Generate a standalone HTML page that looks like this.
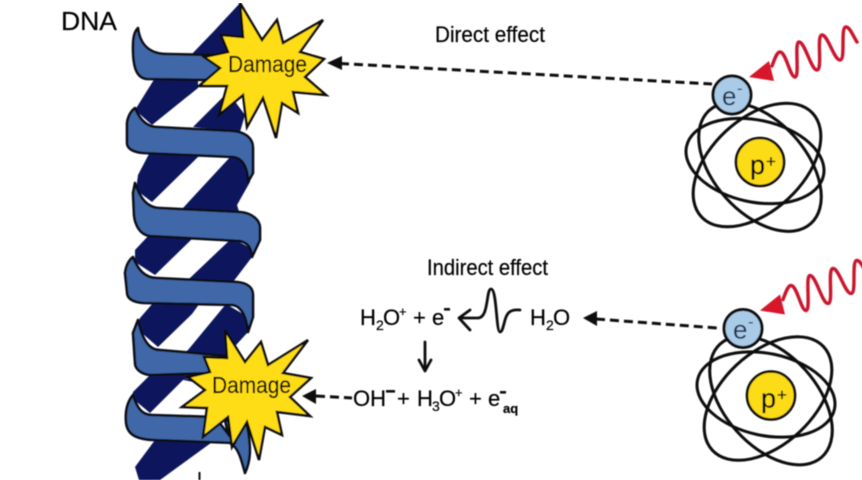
<!DOCTYPE html>
<html><head><meta charset="utf-8"><style>
html,body{margin:0;padding:0;background:#fff;width:862px;height:480px;overflow:hidden}
svg{display:block}
text{font-family:"Liberation Sans",sans-serif;fill:#000;stroke:#000;stroke-width:.2}
.r{fill:#3f68a8;stroke:#0b0b12;stroke-width:2.6;stroke-linejoin:round}
.s{fill:#ffdd14;stroke:#0b0b0b;stroke-width:2.5;stroke-linejoin:miter}
.o{fill:none;stroke:#0a0a0a;stroke-width:3}
.d{fill:none;stroke:#111;stroke-width:3;stroke-dasharray:9 5}
.w{fill:none;stroke:#c9142d;stroke-width:3.4;stroke-linejoin:round;stroke-linecap:round}
.l{fill:none;stroke:#111;stroke-width:2.8;stroke-linecap:round;stroke-linejoin:round}
.b{fill:#10195c}
</style></head><body>
<svg width="862" height="480" viewBox="0 0 862 480" xmlns="http://www.w3.org/2000/svg">
<defs><filter id="f" x="0" y="0" width="100%" height="100%"><feGaussianBlur stdDeviation="0.4"/></filter></defs>
<rect width="862" height="480" fill="#fff"/>
<g filter="url(#f)">
<polygon class="b" points="240,3 250,40 225,80 190,80 160,56 190,56 215,30"/>
<polygon class="b" points="155,78 198,78 198,88 152,125 135,110"/>
<polygon class="b" points="193,127 228,92 245,115 240,132"/>
<polygon class="b" points="150,152 205,152 200,155 152,202 136,190 138,175"/>
<polygon class="b" points="232,155 250,165 250,182 237,205 240,215 183,208"/>
<polygon class="b" points="135,250 150,234 200,234 193,238 155,275 135,262"/>
<polygon class="b" points="232,238 254,250 252,257 233,282 185,280 190,278"/>
<polygon class="b" points="153,303 200,303 192,314 158,347 136,328 140,318"/>
<polygon class="b" points="226,304 250,318 248,332 226,356 185,352 188,350"/>
<polygon class="b" points="150,375 200,375 183,380 150,413 132,398 133,392"/>
<polygon class="b" points="183,380 215,372 210,420 195,420 205,416 210,385"/>
<polygon class="b" points="155,440 215,440 160,480 139,480 135,467"/>
<path class="r" d="M230,443 C238,447 241,458 245,473 C250,462 252,450 247,425 L225,420 Z"/>
<path class="r" d="M138,28 C140,45 150,54 167,54 L215,55 L228,70 L205,80 L147,79 C136,78 133,66 133,48 C133,38 134,32 138,28 Z"/>
<path class="r" d="M135,108 C140,120 147,127 157,127 L233,131 C245,132 253,138 253,148 L253,173 L248,182 C248,170 244,158 233,157 L143,153 C132,152 127,148 127,143 L127,123 C128,116 131,111 135,108 Z"/>
<path class="r" d="M135,183 C140,198 147,208 160,208 L240,212 C252,213 260,220 260,228 L260,240 L252,257 C251,247 248,243 240,241 L150,236 C140,235 135,225 134,215 L133,193 Z"/>
<path class="r" d="M133,257 C138,270 145,278 157,278 L237,282 C248,283 253,288 253,295 L253,317 L248,332 C247,320 243,307 233,305 L143,303 C132,302 127,298 127,292 L125,273 C126,266 129,260 133,257 Z"/>
<path class="r" d="M138,320 C142,338 148,350 160,350 L228,356 L215,373 L150,375 C140,374 135,368 135,363 L133,333 Z"/>
<path class="r" d="M133,395 C137,408 142,415 152,415 L215,417 L235,443 L153,440 C135,439 127,434 126,422 C125,410 128,401 133,395 Z"/>
<polygon class="s" points="240,3 262,40 277,20 283,43 323,20 300,52 324,59 305,77 326,95 293,92 298,113 282,103 276,138 263,98 247,127 243,95 219,115 227,86 199,86 220,68 204,57 228,52 221,35 243,37"/>
<polygon class="s" points="225,330 245,362 261,342 268,365 308,340 283,373 311,378 290,397 310,416 277,412 282,435 265,427 259,460 247,422 232,447 228,417 203,437 207,408 182,407 205,390 188,377 210,372 204,357 227,358"/>
<text x="228" y="72" font-size="23" textLength="79" lengthAdjust="spacingAndGlyphs">Damage</text>
<text x="212" y="393" font-size="23" textLength="79" lengthAdjust="spacingAndGlyphs">Damage</text>
<text x="61" y="30" font-size="26" textLength="56" lengthAdjust="spacingAndGlyphs">DNA</text>
<text x="435" y="42" font-size="22" textLength="110" lengthAdjust="spacingAndGlyphs">Direct effect</text>
<text x="427" y="275" font-size="22" textLength="121" lengthAdjust="spacingAndGlyphs">Indirect effect</text>

<g>
<ellipse class="o" cx="755" cy="161" rx="70" ry="41" transform="rotate(12 755 161)"/>
<ellipse class="o" cx="760" cy="167" rx="76" ry="46" transform="rotate(48 760 167)"/>
<ellipse class="o" cx="757" cy="165" rx="76" ry="46" transform="rotate(-43 757 165)"/>
<circle cx="760" cy="162" r="24" fill="#fcdc14" stroke="#0a0a0a" stroke-width="2.6"/>
<text x="750" y="174" font-size="27">p</text><text x="766" y="167" font-size="17">+</text>
<circle cx="732" cy="95" r="19" fill="#a9cbe8" stroke="#0a0a0a" stroke-width="3"/>
<text x="722" y="105" font-size="26" style="fill:#1f3350;stroke:none">e</text><text x="737" y="94" font-size="17" style="fill:#1f3350;stroke:none">-</text>
<path class="w" d="M772,66 C775,58 777,52 780,52 C786,52 790,77 795,77 C800,77 794,42 799,42 C805,42 811,70 817,70 C823,70 816,35 822,35 C828,35 834,60 840,60 C846,60 840,27 846,27 C850,27 853,36 857,42"/>
<polygon points="749,77 769,61 774,81" fill="#d8122c"/>
</g>
<g transform="translate(11,233.5)">
<ellipse class="o" cx="755" cy="161" rx="70" ry="41" transform="rotate(12 755 161)"/>
<ellipse class="o" cx="760" cy="167" rx="76" ry="46" transform="rotate(48 760 167)"/>
<ellipse class="o" cx="757" cy="165" rx="76" ry="46" transform="rotate(-43 757 165)"/>
<circle cx="760" cy="162" r="24" fill="#fcdc14" stroke="#0a0a0a" stroke-width="2.6"/>
<text x="750" y="174" font-size="27">p</text><text x="766" y="167" font-size="17">+</text>
<circle cx="732" cy="95" r="19" fill="#a9cbe8" stroke="#0a0a0a" stroke-width="3"/>
<text x="722" y="105" font-size="26" style="fill:#1f3350;stroke:none">e</text><text x="737" y="94" font-size="17" style="fill:#1f3350;stroke:none">-</text>
<path class="w" d="M772,66 C775,58 777,52 780,52 C786,52 790,77 795,77 C800,77 794,42 799,42 C805,42 811,70 817,70 C823,70 816,35 822,35 C828,35 834,60 840,60 C846,60 840,27 846,27 C850,27 853,36 857,42"/>
<polygon points="749,77 769,61 774,81" fill="#d8122c"/>
</g>

<path class="d" d="M340,63.5 L712,84"/>
<polygon points="327,63 342,56 342,70" fill="#111"/>
<path class="d" d="M596,319 L717,328"/>
<polygon points="583,318 597,311 597,326" fill="#111"/>
<path class="d" d="M316,396 L352,398"/>
<polygon points="302,396 316,389 316,404" fill="#111"/>

<text x="360" y="325" font-size="22">H</text>
<text x="376" y="330" font-size="14">2</text>
<text x="383" y="325" font-size="22">O</text>
<text x="399" y="316" font-size="13">+</text>
<text x="413" y="325" font-size="22">+ e</text>
<rect x="444" y="308" width="6" height="2.6" fill="#111"/>
<text x="530" y="325" font-size="22">H</text>
<text x="546" y="330" font-size="14">2</text>
<text x="553" y="325" font-size="22">O</text>
<path class="l" d="M520,310 C510,309 507,313 505,320 C503,328 502,332 500,332 C496,332 497,289 491,289 C486,289 489,318 478,318 L460,318 M470,310 L459,318 L470,330"/>
<path class="l" d="M425,342 L425,370 M419,360 L425,371 L431,360"/>

<text x="353" y="406" font-size="22">OH</text>
<rect x="386" y="390" width="9" height="2.6" fill="#111"/>
<text x="397" y="406" font-size="22">+</text>
<text x="417" y="406" font-size="22">H</text>
<text x="432" y="411" font-size="14">3</text>
<text x="439" y="406" font-size="22">O</text>
<text x="455" y="397" font-size="13">+</text>
<text x="469" y="406" font-size="22">+ e</text>
<rect x="500" y="391" width="6" height="2.6" fill="#111"/>
<text x="503" y="413" font-size="13" font-weight="bold">aq</text>
<path d="M199.5,472 V480" stroke="#111" stroke-width="2" fill="none"/>
</g>
</svg>
</body></html>
